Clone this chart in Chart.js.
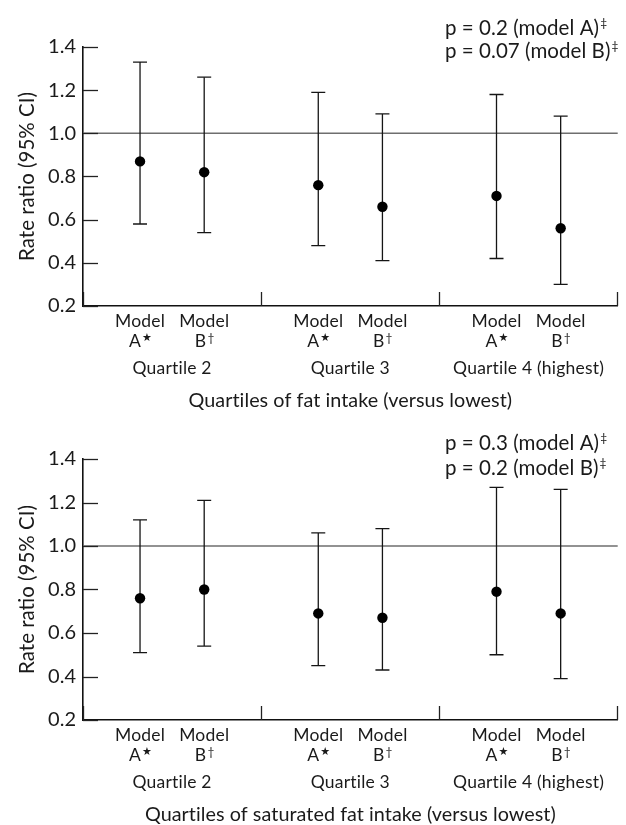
<!DOCTYPE html>
<html><head><meta charset="utf-8">
<script src="https://cdn.jsdelivr.net/npm/chart.js@4.4.0/dist/chart.umd.min.js"></script>
<style>html,body{margin:0;padding:0;background:#fff;}canvas{display:block;}</style>
</head><body>
<canvas id="c1" width="626" height="413" style="width:626px;height:413px"></canvas>
<canvas id="c2" width="626" height="412" style="width:626px;height:412px"></canvas>
<script>
// ---------- data ----------
const groupLabels = ['Quartile 2', 'Quartile 3', 'Quartile 4 (highest)'];
const modelNames = ['Model', 'Model'];
const modelLetters = ['A', 'B'];
const modelMarks = ['\u2605', '\u2020'];
const yTickValues = [0.2, 0.4, 0.6, 0.8, 1.0, 1.2, 1.4];
const referenceValue = 1.0;
const yTitle = 'Rate ratio (95% CI)';

const fatEstimate = [0.87, 0.82, 0.76, 0.66, 0.71, 0.56];
const fatLower    = [0.58, 0.54, 0.48, 0.41, 0.42, 0.30];
const fatUpper    = [1.33, 1.26, 1.19, 1.09, 1.18, 1.08];
const fatPValues  = ['p = 0.2 (model A)', 'p = 0.07 (model B)'];
const fatTitle    = 'Quartiles of fat intake (versus lowest)';

const satEstimate = [0.76, 0.80, 0.69, 0.67, 0.79, 0.69];
const satLower    = [0.51, 0.54, 0.45, 0.43, 0.50, 0.39];
const satUpper    = [1.12, 1.21, 1.06, 1.08, 1.27, 1.26];
const satPValues  = ['p = 0.3 (model A)', 'p = 0.2 (model B)'];
const satTitle    = 'Quartiles of saturated fat intake (versus lowest)';

// ---------- layout helpers ----------
const FAM = "Lato, 'DejaVu Sans', sans-serif";
const TXT = '#1a1a1a';
const modelOffset = [0.32, 0.68];
function xOf(i) { return Math.floor(i / 2) + modelOffset[i % 2]; }

function drawSup(ctx, base, sup, x, y, baseFont, supFont, rise, align) {
  ctx.font = baseFont; const w1 = ctx.measureText(base).width;
  ctx.font = supFont; const w2 = ctx.measureText(sup).width;
  let start = align === 'left' ? x : x - (w1 + w2) / 2;
  ctx.textAlign = 'left';
  ctx.font = baseFont; ctx.fillText(base, start, y);
  ctx.font = supFont; ctx.fillText(sup, start + w1 + 1, y - rise);
}

const forestPlugin = {
  id: 'forest',
  beforeDatasetsDraw(chart, args, opts) {
    const ctx = chart.ctx, ys = chart.scales.y, a = chart.chartArea;
    const y = ys.getPixelForValue(referenceValue);
    ctx.save();
    ctx.strokeStyle = '#6e6e6e'; ctx.lineWidth = 1.5;
    ctx.beginPath(); ctx.moveTo(a.left, y); ctx.lineTo(a.right, y); ctx.stroke();
    ctx.restore();
  },
  afterDraw(chart, args, opts) {
    const ctx = chart.ctx, xs = chart.scales.x, ys = chart.scales.y, a = chart.chartArea;
    ctx.save();
    const hasLS = 'letterSpacing' in ctx;
    if (hasLS) ctx.letterSpacing = '0.2px';
    // inward y ticks
    ctx.strokeStyle = '#222'; ctx.lineWidth = 1.3;
    ys.ticks.forEach(t => {
      const y = Math.round(ys.getPixelForValue(t.value)) + 0.5;
      ctx.beginPath(); ctx.moveTo(a.left, y); ctx.lineTo(a.left + 15, y); ctx.stroke();
    });
    // group dividers
    for (let g = 0; g <= groupLabels.length; g++) {
      const x = Math.round(xs.getPixelForValue(g)) - (g === groupLabels.length ? 0.5 : -0.5);
      ctx.beginPath(); ctx.moveTo(x, a.bottom); ctx.lineTo(x, a.bottom - 14); ctx.stroke();
    }
    ctx.fillStyle = TXT;
    ctx.textBaseline = 'alphabetic';
    const catFont = '17.5px ' + FAM;
    // model labels
    for (let i = 0; i < groupLabels.length * 2; i++) {
      const x = xs.getPixelForValue(xOf(i));
      ctx.font = catFont; ctx.textAlign = 'center';
      ctx.fillText(modelNames[i % 2], x, a.bottom + 21);
      const m = i % 2;
      drawSup(ctx, modelLetters[m], modelMarks[m], x, a.bottom + 41, catFont,
              (m === 0 ? '11px ' : '12px ') + FAM, m === 0 ? 6 : 5);
    }
    // group labels
    ctx.font = catFont; ctx.textAlign = 'center';
    groupLabels.forEach((g, k) => ctx.fillText(g, xs.getPixelForValue(k + 0.5), a.bottom + 68));
    // axis title
    if (hasLS) ctx.letterSpacing = '0.05px';
    ctx.font = '19.8px ' + FAM; ctx.textAlign = 'center';
    ctx.fillText(opts.title, (a.left + a.right) / 2, a.bottom + 101);
    // p values
    opts.pValues.forEach((p, k) => {
      drawSup(ctx, p, '\u2021', 445, opts.pBase[k], '20.5px ' + FAM, '12px ' + FAM, 8, 'left');
    });
    ctx.restore();
  }
};

function makeChart(id, est, lo, hi, pValues, title, topPad, xH, pBase) {
  const datasets = [{
    label: 'Rate ratio',
    data: est.map((v, i) => ({ x: xOf(i), y: v })),
    pointRadius: 5.2, pointHoverRadius: 5.2,
    pointBackgroundColor: '#000', pointBorderWidth: 0,
    showLine: false
  }];
  est.forEach((v, i) => {
    datasets.push({
      label: 'CI ' + i,
      data: [{ x: xOf(i), y: lo[i] }, { x: xOf(i), y: hi[i] }],
      showLine: true, borderColor: '#151515', borderWidth: 1.3,
      pointStyle: 'line', pointRadius: 7, pointHoverRadius: 7,
      pointBorderColor: '#151515', pointBorderWidth: 1.3
    });
  });
  return new Chart(document.getElementById(id), {
    type: 'scatter',
    data: { datasets },
    plugins: [forestPlugin],
    options: {
      responsive: false, animation: false, events: [],
      layout: { padding: { left: 0, right: 5, top: topPad, bottom: 0 } },
      plugins: {
        legend: { display: false }, tooltip: { enabled: false },
        forest: { title, pValues, pBase }
      },
      scales: {
        x: {
          type: 'linear', min: 0, max: groupLabels.length,
          grid: { display: false, drawTicks: false },
          ticks: { display: false },
          border: { display: true, color: '#111', width: 1.6 },
          afterFit: s => { s.height = xH; }
        },
        y: {
          type: 'linear', min: yTickValues[0], max: yTickValues[yTickValues.length - 1],
          afterBuildTicks: s => { s.ticks = yTickValues.map(v => ({ value: v })); },
          grid: { display: false, drawTicks: false },
          border: { display: true, color: '#111', width: 1.6 },
          ticks: { callback: v => Number(v).toFixed(1), color: TXT, padding: 7,
                   font: { family: FAM, size: 20 } },
          title: { display: true, text: yTitle, color: TXT,
                   font: { family: FAM, size: 20.5 }, padding: { top: 15, bottom: 0 } },
          afterFit: s => { s.width = 83; }
        }
      }
    }
  });
}

makeChart('c1', fatEstimate, fatLower, fatUpper, fatPValues, fatTitle, 47, 107, [35, 58]);
makeChart('c2', satEstimate, satLower, satUpper, satPValues, satTitle, 46, 105, [36.5, 61.5]);
</script>
</body></html>
